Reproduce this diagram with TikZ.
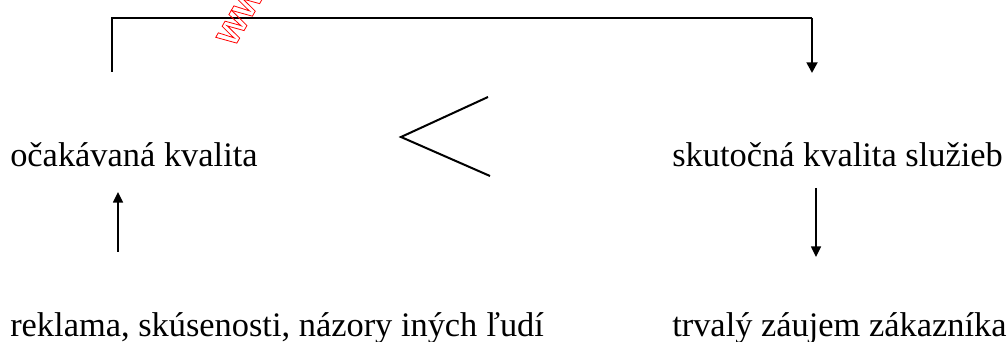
\documentclass[tikz,border=0pt]{standalone}
\usepackage{fontspec}
\setmainfont{Liberation Serif}
\newfontfamily\wmfont{Liberation Sans}
\usetikzlibrary{arrows.meta}
\newcommand{\outlinetext}[1]{\special{pdf:code 1 Tr 0.6 w}#1\special{pdf:code 0 Tr}}
\begin{document}
\begin{tikzpicture}[x=0.75pt,y=-0.75pt,
  lbl/.style={anchor=base west,inner sep=0pt,font=\fontsize{25.8}{30}\selectfont},
  thick bracket/.style={line width=2pt},
  thinarrow/.style={line width=1.1pt,-{Triangle[length=8pt,width=7.5pt]}},
  bigarrow/.style={line width=2pt,-{Triangle[length=8pt,width=8pt]}},
  angle/.style={line width=1.5pt}]
\useasboundingbox (0,0) rectangle (1008,342);
% text nodes
\node[lbl] (exp) at (10,167) {očakávaná kvalita};
\node[lbl] (act) at (672,167) {skutočná kvalita služieb};
\node[lbl] (src) at (10,336) {reklama, skúsenosti, názory iných ľudí};
\node[lbl] (res) at (672,336) {trvalý záujem zákazníka};
% coordinates for connector ends
\coordinate (bl) at (112,72);
\coordinate (tl) at (112,18);
\coordinate (tr) at (812,18);
\coordinate (br) at (812,73);
\coordinate (ua) at (118,252);
\coordinate (ub) at (118,192);
\coordinate (da) at (816,188);
\coordinate (db) at (816,257);
\coordinate (lt) at (488,97);
\coordinate (lp) at (401,137);
\coordinate (lb) at (490,176);
% bracket
\draw[thick bracket] (bl) -- (tl) -- (tr);
\draw[bigarrow] (tr) -- (br);
% less-than sign
\draw[angle] (lt) -- (lp) -- (lb);
% arrows
\draw[thinarrow] (ua) -- (ub);
\draw[thinarrow] (da) -- (db);
% watermark
\node[text=red,font=\wmfont\bfseries\fontsize{30}{34}\selectfont,rotate=60,anchor=base west,inner sep=0pt] (wm) at (234,48) {\outlinetext{www}};
\end{tikzpicture}
\end{document}
